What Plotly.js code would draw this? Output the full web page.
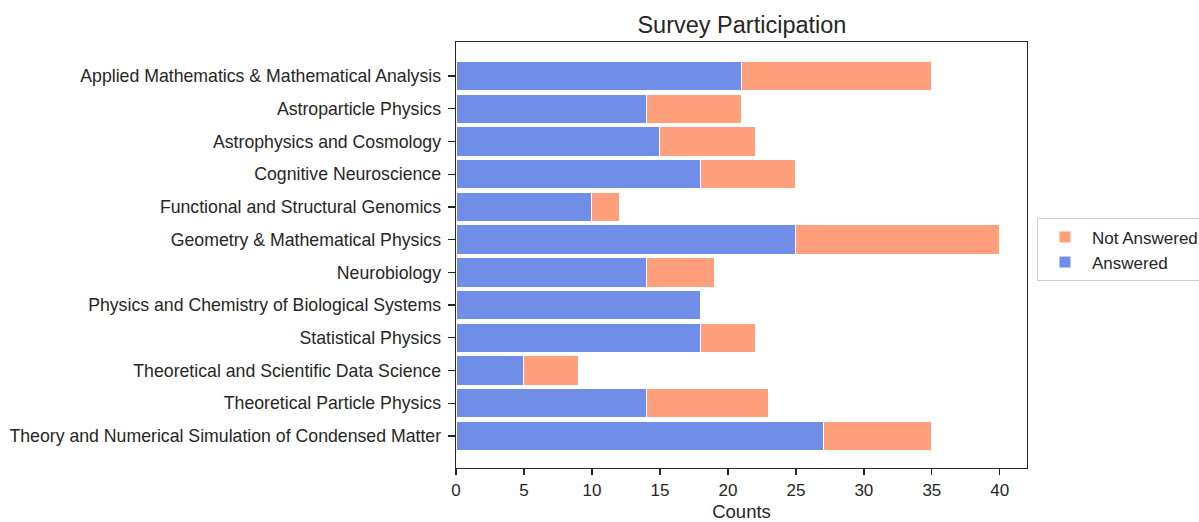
<!DOCTYPE html>
<html>
<head>
<meta charset="utf-8">
<script src="https://cdn.plot.ly/plotly-3.0.1.min.js"></script>
<style>html,body{margin:0;padding:0;background:#fff;}#chart{width:1199px;height:522px;}</style>
</head>
<body>
<div id="chart"></div>
<script>
const categories = [
  "Applied Mathematics & Mathematical Analysis",
  "Astroparticle Physics",
  "Astrophysics and Cosmology",
  "Cognitive Neuroscience",
  "Functional and Structural Genomics",
  "Geometry & Mathematical Physics",
  "Neurobiology",
  "Physics and Chemistry of Biological Systems",
  "Statistical Physics",
  "Theoretical and Scientific Data Science",
  "Theoretical Particle Physics",
  "Theory and Numerical Simulation of Condensed Matter"
];
const answered    = [21, 14, 15, 18, 10, 25, 14, 18, 18, 5, 14, 27];
const notAnswered = [14,  7,  7,  7,  2, 15,  5,  0,  4, 4,  9,  8];
const xTicks = [0, 5, 10, 15, 20, 25, 30, 35, 40];

const FONT = "Liberation Sans, Arial, sans-serif";
const TXT = "#262626";

const traces = [
  {
    type: "bar", orientation: "h", name: "Answered",
    y: categories, x: answered,
    marker: {color: "#708EE8", line: {color: "#ffffff", width: 1}},
    hoverinfo: "x+y"
  },
  {
    type: "bar", orientation: "h", name: "Not Answered",
    y: categories, x: notAnswered,
    marker: {color: "#FF9F7C", line: {color: "#ffffff", width: 1}},
    hoverinfo: "x+y"
  }
];

const layout = {
  width: 1199, height: 522,
  margin: {l: 456, r: 172, t: 42, b: 54, pad: 0, autoexpand: false},
  paper_bgcolor: "#ffffff", plot_bgcolor: "#ffffff",
  barmode: "stack", bargap: 0.1,
  font: {family: FONT, color: TXT, size: 17},
  title: {text: "Survey Participation", font: {family: FONT, size: 23.5, color: TXT},
          x: 0.6188, xanchor: "center", y: 0.952, yanchor: "middle"},
  xaxis: {
    range: [0, 42], tickvals: xTicks, ticktext: xTicks.map(String),
    showgrid: false, zeroline: false,
    showline: true, linecolor: TXT, linewidth: 1.4, mirror: true,
    ticks: "outside", ticklen: 6, tickwidth: 1.3, tickcolor: TXT,
    tickfont: {size: 17, color: TXT},
    title: {text: "Counts", font: {size: 18.5, color: TXT}, standoff: 8}
  },
  yaxis: {
    type: "category", categoryorder: "array", categoryarray: categories,
    range: [11.98, -1.04],
    showgrid: false, zeroline: false,
    showline: true, linecolor: TXT, linewidth: 1.4, mirror: true,
    ticks: "outside", ticklen: 7, tickwidth: 1.3, tickcolor: TXT,
    ticklabelstandoff: 3,
    tickfont: {size: 17.7, color: TXT}
  },
  legend: {
    x: 1.0175, xanchor: "left", y: 0.512, yanchor: "middle",
    traceorder: "reversed", itemwidth: 44,
    bordercolor: "#d0d0d0", borderwidth: 1, bgcolor: "#ffffff",
    font: {size: 17, color: TXT}
  },
  showlegend: true
};

Plotly.newPlot("chart", traces, layout, {displayModeBar: false, staticPlot: true});
</script>
</body>
</html>
